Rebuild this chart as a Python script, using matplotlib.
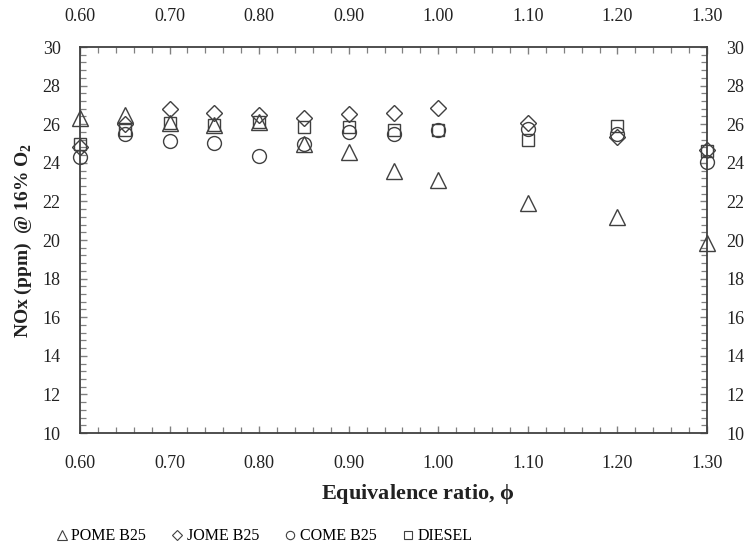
import numpy as np
import matplotlib
matplotlib.use("Agg")
import matplotlib.pyplot as plt
from matplotlib.ticker import MultipleLocator, FormatStrFormatter
from matplotlib.lines import Line2D

# --- NOx emissions vs equivalence ratio
phi = [0.60, 0.65, 0.70, 0.75, 0.80, 0.85, 0.90, 0.95, 1.00, 1.10, 1.20, 1.30]
pome_b25 = [26.3, 26.5, 26.05, 25.95, 26.1, 24.95, 24.55, 23.6, 23.1, 21.9, 21.2, 19.85]
jome_b25 = [24.8, 26.0, 26.8, 26.6, 26.5, 26.3, 26.55, 26.6, 26.85, 26.05, 25.35, 24.65]
come_b25 = [24.3, 25.5, 25.15, 25.05, 24.35, 24.95, 25.6, 25.5, 25.7, 25.75, 25.5, 24.05]
diesel = [25.0, 25.7, 26.05, 25.95, 26.1, 25.85, 25.85, 25.7, 25.7, 25.2, 25.9, 24.6]

series = [
    ("POME B25", pome_b25, "^", 11),
    ("JOME B25", jome_b25, "D", 8),
    ("COME B25", come_b25, "o", 10),
    ("DIESEL", diesel, "s", 8.5),
]

plt.rcParams["font.family"] = ["Liberation Serif", "DejaVu Serif"]
plt.rcParams["mathtext.fontset"] = "custom"
plt.rcParams["mathtext.rm"] = "Liberation Serif"
plt.rcParams["mathtext.bf"] = "Liberation Serif:bold"

EDGE = "#404040"

fig = plt.figure(figsize=(7.45, 5.55), dpi=100)
ax = fig.add_axes([0.1074, 0.2198, 0.8416, 0.6955])

for name, vals, mk, ms in series:
    ax.plot(phi, vals, linestyle="none", marker=mk, markersize=ms,
            markerfacecolor="none", markeredgecolor=EDGE, markeredgewidth=1.0,
            clip_on=False, label=name)

ax.set_xlim(0.60, 1.30)
ax.set_ylim(10, 30)
ax.xaxis.set_major_locator(MultipleLocator(0.1))
ax.xaxis.set_minor_locator(MultipleLocator(0.02))
ax.yaxis.set_major_locator(MultipleLocator(2))
ax.yaxis.set_minor_locator(MultipleLocator(0.4))
ax.xaxis.set_major_formatter(FormatStrFormatter("%.2f"))

for s in ax.spines.values():
    s.set_color(EDGE)
    s.set_linewidth(1.3)

ax.tick_params(which="both", direction="in", top=True, right=True,
               labeltop=True, labelright=True, color="#808080",
               labelsize=13, labelcolor="#222222")
ax.tick_params(which="major", length=5, width=1)
ax.tick_params(which="minor", length=4, width=0.9)
ax.tick_params(axis="x", which="major", pad=16)
ax.tick_params(axis="y", which="major", pad=14)

fig.text(0.561, 0.110, r"Equivalence ratio, $\mathbf{\phi}$", ha="center", va="center",
         fontsize=16, fontweight="bold", color="#222222")
fig.text(0.031, 0.567, r"NOx (ppm)  @ 16% O$_\mathbf{2}$", ha="center", va="center",
         rotation=90, fontsize=14, fontweight="bold", color="#222222")

handles = [Line2D([], [], linestyle="none", marker=mk, markersize=ms * 0.6,
                  markerfacecolor="none", markeredgecolor=EDGE, markeredgewidth=0.8)
           for _, _, mk, ms in series]
fig.legend(handles, [s[0] for s in series], loc="center left",
           bbox_to_anchor=(0.057, 0.034), ncol=4, frameon=False, fontsize=11.5,
           handlelength=0.6, handletextpad=0.3, columnspacing=1.65)

fig.savefig("out.png", dpi=100)
